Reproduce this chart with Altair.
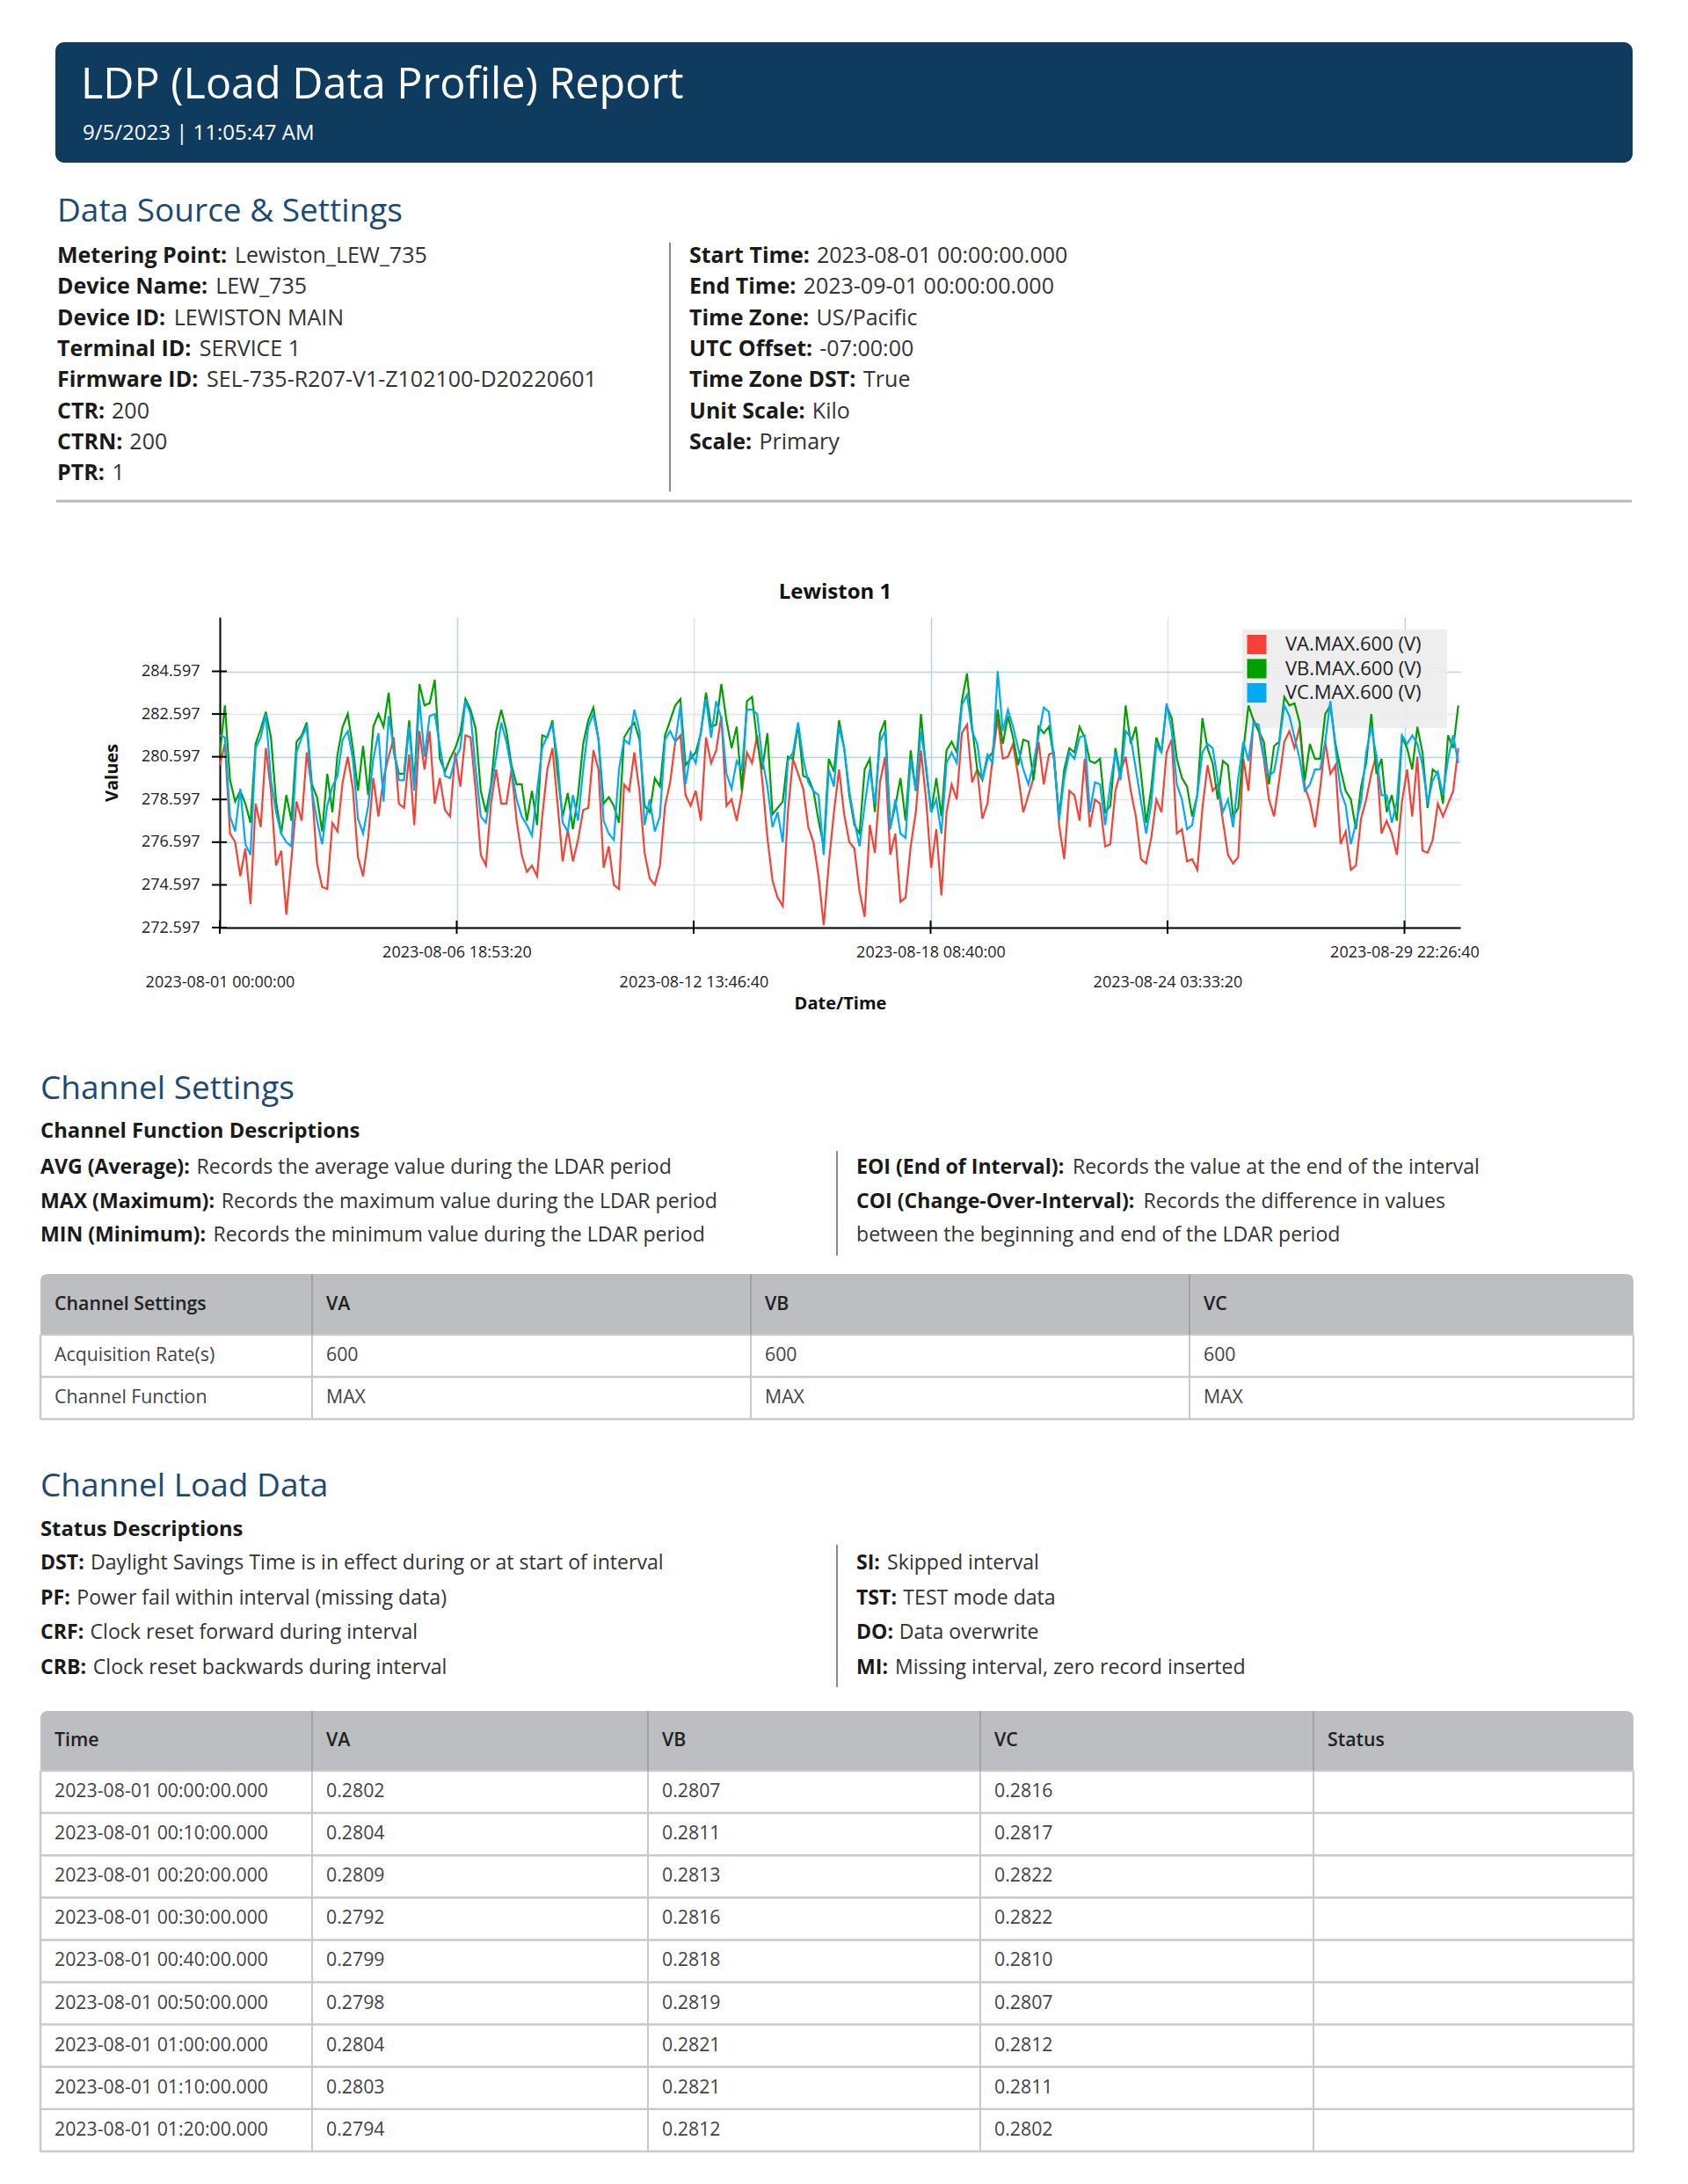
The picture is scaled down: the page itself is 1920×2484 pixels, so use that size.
import altair as alt
import pandas as pd

FONT = "Open Sans"
W = 1904  # page width minus the 8px margins

# ---------------- report texts ----------------
report_title = "LDP (Load Data Profile) Report"
report_stamp = "9/5/2023 | 11:05:47 AM"
heading_source = "Data Source & Settings"
heading_channel = "Channel Settings"
heading_load = "Channel Load Data"
sub_functions = "Channel Function Descriptions"
sub_status = "Status Descriptions"

info_left_labels = ["Metering Point:", "Device Name:", "Device ID:", "Terminal ID:",
                    "Firmware ID:", "CTR:", "CTRN:", "PTR:"]
info_left_values = ["Lewiston_LEW_735", "LEW_735", "LEWISTON MAIN", "SERVICE 1",
                    "SEL-735-R207-V1-Z102100-D20220601", "200", "200", "1"]
info_right_labels = ["Start Time:", "End Time:", "Time Zone:", "UTC Offset:",
                     "Time Zone DST:", "Unit Scale:", "Scale:"]
info_right_values = ["2023-08-01 00:00:00.000", "2023-09-01 00:00:00.000", "US/Pacific",
                     "-07:00:00", "True", "Kilo", "Primary"]

func_left_labels = ["AVG (Average):", "MAX (Maximum):", "MIN (Minimum):"]
func_left_values = ["Records the average value during the LDAR period",
                    "Records the maximum value during the LDAR period",
                    "Records the minimum value during the LDAR period"]
func_right_labels = ["EOI (End of Interval):", "COI (Change-Over-Interval):", ""]
func_right_values = ["Records the value at the end of the interval",
                     "Records the difference in values",
                     "between the beginning and end of the LDAR period"]

status_left_labels = ["DST:", "PF:", "CRF:", "CRB:"]
status_left_values = ["Daylight Savings Time is in effect during or at start of interval",
                      "Power fail within interval (missing data)",
                      "Clock reset forward during interval",
                      "Clock reset backwards during interval"]
status_right_labels = ["SI:", "TST:", "DO:", "MI:"]
status_right_values = ["Skipped interval", "TEST mode data", "Data overwrite",
                       "Missing interval, zero record inserted"]

settings_columns = ["Channel Settings", "VA", "VB", "VC"]
settings_rows = [["Acquisition Rate(s)", "600", "600", "600"],
                 ["Channel Function", "MAX", "MAX", "MAX"]]

load_columns = ["Time", "VA", "VB", "VC", "Status"]
load_time = ["2023-08-01 00:00:00.000", "2023-08-01 00:10:00.000", "2023-08-01 00:20:00.000",
             "2023-08-01 00:30:00.000", "2023-08-01 00:40:00.000", "2023-08-01 00:50:00.000",
             "2023-08-01 01:00:00.000", "2023-08-01 01:10:00.000", "2023-08-01 01:20:00.000"]
load_va = ["0.2802", "0.2804", "0.2809", "0.2792", "0.2799", "0.2798", "0.2804", "0.2803", "0.2794"]
load_vb = ["0.2807", "0.2811", "0.2813", "0.2816", "0.2818", "0.2819", "0.2821", "0.2821", "0.2812"]
load_vc = ["0.2816", "0.2817", "0.2822", "0.2822", "0.2810", "0.2807", "0.2812", "0.2811", "0.2802"]
load_status = ["", "", "", "", "", "", "", "", ""]

# ---------------- chart data ----------------
chart_title = "Lewiston 1"
series_names = ["VA.MAX.600 (V)", "VB.MAX.600 (V)", "VC.MAX.600 (V)"]
series_colors = ["#f44336", "#00a000", "#03a9f4"]
sample_start = "2023-08-01 00:00:00"
sample_step_hours = 3
x_domain_end = "2023-08-31 07:10:00"
x_tick_labels = ["2023-08-01 00:00:00", "2023-08-06 18:53:20", "2023-08-12 13:46:40",
                 "2023-08-18 08:40:00", "2023-08-24 03:33:20", "2023-08-29 22:26:40"]
y_ticks = [272.597, 274.597, 276.597, 278.597, 280.597, 282.597, 284.597]
y_domain = [272.597, 287.13]

va = [280.2, 281.2, 277.0, 276.6, 275.0, 276.3, 273.7, 278.4, 277.3, 281.0,
      279.0, 275.5, 276.2, 273.2, 275.8, 278.5, 277.6, 280.8, 279.1, 275.6,
      274.5, 274.4, 277.5, 277.1, 279.4, 280.6, 279.1, 275.9, 275.0, 276.8,
      279.6, 277.8, 279.6, 280.6, 281.5, 278.4, 278.2, 280.7, 277.4, 281.8,
      280.0, 281.8, 278.4, 279.6, 278.1, 277.8, 280.8, 279.2, 281.6, 281.5,
      279.0, 276.0, 275.5, 278.4, 280.0, 278.4, 278.4, 280.0, 277.6, 276.0,
      275.2, 275.5, 275.0, 277.8, 280.0, 281.0, 278.4, 275.7, 277.2, 275.7,
      276.7, 278.1, 278.2, 280.9, 280.0, 275.4, 276.4, 274.6, 274.4, 279.3,
      279.0, 280.8, 279.0, 276.1, 274.9, 274.6, 275.5, 278.3, 279.4, 281.3,
      281.6, 278.8, 278.3, 279.0, 277.6, 281.5, 280.3, 280.9, 282.5, 278.3,
      278.6, 277.6, 278.9, 280.8, 280.3, 281.6, 279.5, 276.8, 274.8, 274.0,
      273.6, 278.0, 280.5, 279.8, 279.1, 277.3, 276.6, 275.0, 272.7, 275.6,
      278.0, 280.0, 277.9, 276.6, 276.3, 274.3, 273.1, 277.4, 276.1, 279.4,
      280.6, 276.0, 277.0, 273.8, 274.0, 276.4, 278.0, 280.9, 278.6, 275.4,
      277.2, 274.1, 278.0, 279.3, 278.6, 281.7, 282.1, 279.4, 280.0, 277.7,
      278.4, 280.5, 282.4, 280.5, 280.6, 281.2, 279.7, 278.0, 278.8, 279.6,
      281.3, 279.3, 280.7, 280.8, 277.4, 275.8, 279.0, 278.8, 277.6, 280.5,
      277.3, 278.6, 278.4, 276.4, 276.5, 279.0, 279.9, 280.6, 279.0, 277.8,
      275.8, 275.6, 276.8, 278.6, 278.0, 280.8, 281.4, 277.0, 277.2, 275.7,
      275.8, 275.3, 278.2, 280.2, 279.0, 279.3, 277.6, 276.0, 275.6, 275.9,
      280.5, 279.0, 282.3, 281.8, 280.5, 278.6, 277.8, 279.5, 281.3, 281.8,
      281.0, 282.0, 279.2, 278.5, 277.3, 279.1, 281.3, 279.8, 280.2, 276.5,
      277.1, 275.3, 275.5, 277.7, 278.6, 279.8, 280.7, 277.0, 277.6, 277.0,
      276.0, 278.5, 280.0, 277.8, 280.6, 276.2, 276.1, 276.7, 278.4, 277.8,
      278.4, 279.0, 281.0]

vb = [280.7, 283.0, 279.5, 278.5, 279.0, 278.4, 277.5, 281.2, 281.9, 282.7,
      281.5, 278.5, 277.0, 278.8, 277.6, 281.3, 281.6, 282.2, 279.3, 278.7,
      277.1, 279.8, 278.0, 280.7, 282.0, 282.6, 281.0, 279.0, 281.1, 278.8,
      282.0, 282.6, 282.0, 283.6, 280.8, 279.8, 279.8, 282.3, 279.3, 284.0,
      283.0, 283.1, 284.2, 280.5, 279.9, 280.5, 281.0, 281.7, 283.3, 282.8,
      281.9, 279.0, 278.0, 279.3, 281.8, 282.8, 281.8, 280.2, 279.3, 279.3,
      277.6, 279.0, 277.4, 281.6, 281.5, 282.3, 279.8, 277.8, 278.9, 277.2,
      278.8, 281.2, 282.3, 282.9, 281.4, 278.4, 278.7, 278.3, 277.5, 281.5,
      281.9, 282.2, 281.4, 278.3, 278.0, 279.6, 279.2, 281.6, 282.3, 283.0,
      283.3, 280.2, 280.5, 280.8, 281.7, 283.6, 282.0, 282.1, 284.0, 282.3,
      281.0, 282.0, 279.0, 283.2, 283.4, 281.3, 280.0, 281.7, 277.9, 278.2,
      278.5, 280.6, 280.5, 282.1, 279.7, 279.6, 279.0, 277.6, 276.4, 280.5,
      279.9, 282.3, 281.0, 278.8, 277.4, 277.0, 280.0, 280.5, 278.0, 281.7,
      282.3, 277.3, 278.3, 279.6, 277.6, 280.9, 279.0, 282.6, 280.0, 278.0,
      279.6, 277.8, 280.9, 281.3, 280.8, 283.2, 284.5, 282.0, 280.0, 279.5,
      280.5, 280.8, 282.8, 281.2, 282.5, 281.5, 280.2, 281.4, 281.3, 279.5,
      282.0, 281.7, 282.0, 280.5, 277.8, 280.0, 281.0, 280.8, 282.0, 281.5,
      280.4, 280.3, 280.5, 278.0, 278.3, 281.0, 279.7, 283.0, 281.2, 282.0,
      279.8, 277.5, 279.1, 281.5, 280.8, 283.0, 282.4, 280.5, 279.6, 279.2,
      277.8, 278.8, 282.4, 281.0, 280.3, 278.6, 280.4, 280.2, 277.8, 278.2,
      280.9, 283.0, 282.3, 281.8, 281.3, 279.3, 281.1, 281.3, 283.4, 283.0,
      283.1, 282.2, 279.5, 281.2, 280.5, 280.5, 282.6, 283.0, 281.2, 280.0,
      279.0, 278.6, 277.2, 279.2, 280.3, 282.6, 279.8, 280.5, 278.0, 278.8,
      277.6, 281.5, 281.0, 280.0, 282.0, 280.8, 278.2, 280.0, 279.8, 278.4,
      281.6, 281.0, 283.0]

vc = [281.6, 281.5, 277.8, 277.1, 279.1, 276.5, 276.0, 281.0, 281.5, 282.6,
      279.5, 278.0, 277.0, 276.6, 276.4, 280.8, 281.5, 282.0, 279.0, 277.6,
      276.5, 278.3, 279.2, 279.7, 281.4, 281.8, 280.5, 277.7, 277.0, 278.3,
      280.5, 281.7, 278.5, 282.5, 281.0, 279.5, 279.5, 282.0, 279.0, 283.3,
      280.6, 282.5, 282.6, 281.1, 279.7, 279.6, 280.5, 281.0, 283.2, 282.6,
      280.0, 277.8, 277.5, 279.1, 280.6, 282.2, 281.3, 280.0, 278.6, 277.8,
      277.4, 276.9, 279.0, 281.0, 281.6, 282.1, 280.5, 277.5, 277.1, 278.8,
      277.6, 280.0, 282.0, 282.6, 281.4, 277.6, 277.0, 276.7, 280.0, 281.4,
      281.2, 282.8, 281.8, 277.4, 278.6, 277.1, 277.8, 281.4, 281.8, 281.3,
      283.0, 279.3, 280.8, 280.3, 281.8, 283.3, 281.5, 283.2, 282.4, 279.8,
      279.1, 280.4, 280.0, 282.8, 282.8, 282.6, 280.5, 279.2, 277.3, 278.0,
      276.6, 280.4, 280.8, 282.2, 280.5, 279.4, 279.0, 278.8, 276.0, 280.0,
      279.2, 282.0, 281.0, 279.0, 277.6, 276.4, 278.3, 280.0, 278.4, 281.3,
      281.8, 277.2, 278.6, 277.0, 276.8, 280.5, 279.0, 281.8, 280.2, 278.0,
      278.6, 277.0, 280.3, 280.8, 280.3, 283.0, 283.5, 281.8, 281.2, 279.5,
      280.7, 280.3, 284.6, 281.8, 282.8, 282.0, 281.0, 280.0, 279.3, 280.3,
      281.6, 282.9, 282.7, 280.5, 277.6, 279.6, 280.8, 280.5, 281.5, 281.6,
      278.0, 279.4, 279.3, 277.4, 279.3, 280.8, 279.5, 281.8, 281.5, 280.0,
      278.5, 277.0, 278.4, 281.2, 280.8, 283.1, 281.8, 279.3, 278.6, 277.2,
      277.4, 278.8, 280.8, 281.2, 281.0, 279.5, 278.0, 278.6, 277.3, 279.6,
      281.3, 280.4, 282.2, 282.1, 280.6, 279.7, 279.9, 281.2, 283.0, 282.5,
      281.5, 280.5, 279.0, 279.3, 280.0, 280.0, 281.3, 283.2, 281.0, 279.0,
      278.3, 276.5, 277.5, 278.5, 280.8, 282.0, 280.6, 278.8, 278.8, 277.5,
      278.5, 281.6, 281.2, 281.6, 281.2, 280.2, 278.4, 279.5, 279.9, 278.8,
      280.5, 281.6, 280.3]

# ---------------- helpers ----------------
BOLD_EM = {
    " ": 0.26, ":": 0.286, "(": 0.332, ")": 0.332, "-": 0.322,
    "A": 0.690, "B": 0.686, "C": 0.639, "D": 0.740, "E": 0.561, "F": 0.545, "G": 0.725,
    "H": 0.765, "I": 0.372, "J": 0.347, "K": 0.667, "L": 0.563, "M": 0.944, "N": 0.812,
    "O": 0.783, "P": 0.655, "Q": 0.783, "R": 0.676, "S": 0.561, "T": 0.581, "U": 0.760,
    "V": 0.659, "W": 0.990, "X": 0.662, "Y": 0.619, "Z": 0.574,
    "a": 0.604, "b": 0.638, "c": 0.524, "d": 0.638, "e": 0.596, "f": 0.393, "g": 0.567,
    "h": 0.664, "i": 0.306, "j": 0.306, "k": 0.622, "l": 0.306, "m": 0.994, "n": 0.664,
    "o": 0.624, "p": 0.638, "q": 0.638, "r": 0.459, "s": 0.515, "t": 0.426, "u": 0.664,
    "v": 0.592, "w": 0.881, "x": 0.598, "y": 0.592, "z": 0.504,
}


def bold_w(s, size):
    return sum(BOLD_EM.get(c, 0.6) for c in s) * size


def one():
    return pd.DataFrame({"k": [0]})


def T(rows, size, color, weight="normal"):
    df = pd.DataFrame(rows, columns=["x", "y", "t"])
    return alt.Chart(df).mark_text(align="left", baseline="middle", font=FONT,
                                   fontSize=size, fontWeight=weight, color=color).encode(
        x=alt.X("x:Q", scale=None, axis=None),
        y=alt.Y("y:Q", scale=None, axis=None),
        text=alt.Text("t:N"))


def R(rows, color, width):
    df = pd.DataFrame(rows, columns=["x", "x2", "y", "y2"])
    return alt.Chart(df).mark_rule(color=color, strokeWidth=width).encode(
        x=alt.X("x:Q", scale=None, axis=None), x2="x2:Q",
        y=alt.Y("y:Q", scale=None, axis=None), y2="y2:Q")


def B(rows, color, **kw):
    df = pd.DataFrame(rows, columns=["x", "x2", "y", "y2"])
    return alt.Chart(df).mark_rect(color=color, **kw).encode(
        x=alt.X("x:Q", scale=None, axis=None), x2="x2:Q",
        y=alt.Y("y:Q", scale=None, axis=None), y2="y2:Q")


def labeled(lx, ys, labels, values, size, lab_color="#1a1a1a", val_color="#333333"):
    lab_rows, val_rows = [], []
    for y, lab, val in zip(ys, labels, values):
        if lab:
            lab_rows.append([lx, y, lab])
            vx = lx + bold_w(lab, size) + 0.3 * size
        else:
            vx = lx
        val_rows.append([vx, y, val])
    layers = []
    if lab_rows:
        layers.append(T(lab_rows, size, lab_color, "bold"))
    layers.append(T(val_rows, size, val_color))
    return layers


HEAD_COLOR = "#1d4a72"

# ---------------- panel A : header + data source ----------------
HA = 694
OYA = 8  # page y of panel top
def ya(py): return py - OYA
def xp(px): return px - 8

row_h = 35.3
info_ys_left = [ya(291 + row_h * k) for k in range(len(info_left_labels))]
info_ys_right = [ya(291 + row_h * k) for k in range(len(info_right_labels))]

panelA_layers = [
    alt.Chart(one()).mark_rect(color="white").encode(
        x=alt.value(0), x2=alt.value(W), y=alt.value(0), y2=alt.value(HA)),
    B([[xp(63), xp(1857), ya(48), ya(185)]], "#0e3b5e", cornerRadius=10),
    T([[xp(92), ya(97), report_title]], 48.5, "white"),
    T([[xp(94), ya(152), report_stamp]], 24, "white"),
    T([[xp(65), ya(241), heading_source]], 37, HEAD_COLOR),
]
panelA_layers += labeled(xp(65), info_ys_left, info_left_labels, info_left_values, 25)
panelA_layers += labeled(xp(784), info_ys_right, info_right_labels, info_right_values, 25)
panelA_layers += [
    R([[xp(762), xp(762), ya(276), ya(559)]], "#8a8a8a", 2),
    R([[xp(64), xp(1856), ya(570), ya(570)]], "#b8b8b8", 3),
]
panelA = alt.layer(*panelA_layers).properties(width=W, height=HA)

# ---------------- chart panel ----------------
PH = 353
LEFT, RIGHT = 242, 1653  # plot area inside the full-width panel
n = min(len(va), len(vb), len(vc))
start_ms = int(pd.Timestamp(sample_start, tz="UTC").value // 10**6)
end_ms = int(pd.Timestamp(x_domain_end, tz="UTC").value // 10**6)
step_ms = sample_step_hours * 3600 * 1000
times = [start_ms + i * step_ms for i in range(n)]
x_tick_ms = [int(pd.Timestamp(s, tz="UTC").value // 10**6) for s in x_tick_labels]

df_lines = pd.DataFrame({
    "time": times * 3,
    "value": va[:n] + vb[:n] + vc[:n],
    "series": [series_names[0]] * n + [series_names[1]] * n + [series_names[2]] * n,
})

tick_period = x_tick_ms[1] - x_tick_ms[0]
even_test = f"round((datum.value - {x_tick_ms[0]}) / {tick_period}) % 2 == 0"
fmt = "'%Y-%m-%d %H:%M:%S'"
label_expr = (f"({even_test}) ? ['', utcFormat(datum.value, {fmt})] "
              f": utcFormat(datum.value, {fmt})")

x_scale = alt.Scale(type="utc", domain=[start_ms, end_ms], nice=False, range=[LEFT, RIGHT])
y_scale = alt.Scale(domain=y_domain, nice=False, zero=False)

x_axis = alt.Axis(
    values=x_tick_ms, labelExpr=label_expr, labelFont=FONT, labelFontSize=18,
    labelColor="#222222", labelPadding=19, labelLineHeight=34.5, labelOverlap=False,
    labelFlush=False, ticks=False, tickSize=0, domainColor="#000000", domainWidth=2,
    grid=True, gridWidth=1.5,
    gridColor={"condition": {"test": even_test, "value": "#e3e3e3"}, "value": "#add8e6"},
    title="Date/Time", titleFont=FONT, titleFontSize=20, titleFontWeight="bold",
    titleColor="#111111", titlePadding=5)

y_axis = alt.Axis(
    values=y_ticks, format=".3f", labelFont=FONT, labelFontSize=18, labelColor="#222222",
    labelPadding=23, labelOverlap=False, labelFlush=False, ticks=False, tickSize=0,
    offset=-LEFT,
    domainColor="#000000", domainWidth=2, grid=True, gridWidth=1.5,
    gridColor={"condition": {"test": f"round((datum.value - {y_ticks[0]}) / 2) % 2 == 1",
                             "value": "#e3e3e3"}, "value": "#add8e6"},
    title="Values", titleFont=FONT, titleFontSize=20, titleFontWeight="bold",
    titleColor="#111111", titlePadding=23)

X = alt.X("time:T", scale=x_scale, axis=x_axis, title="Date/Time")
Y = alt.Y("value:Q", scale=y_scale, axis=y_axis, title="Values")

# legend box (drawn under the lines, like the reference)
LG_X0, LG_X1, LG_Y0, LG_Y1 = 1405, 1638, 14, 126
LG_SYM_X, LG_TXT_X, LG_ROW0, LG_ROW_H = 1421.5, 1454, 31, 27.5

legend_bg = alt.Chart(one()).mark_rect(color="#ececec", opacity=0.9).encode(
    x=alt.value(LG_X0), x2=alt.value(LG_X1), y=alt.value(LG_Y0), y2=alt.value(LG_Y1))

lines = alt.Chart(df_lines).mark_line(strokeWidth=2.2).encode(
    x=X, y=Y,
    color=alt.Color("series:N", scale=alt.Scale(domain=series_names, range=series_colors),
                    legend=None))

x_ticks_layer = alt.Chart(pd.DataFrame({"time": x_tick_ms})).mark_rule(
    color="#000000", strokeWidth=2).encode(x=X, y=alt.value(PH - 8), y2=alt.value(PH + 7))
y_ticks_layer = alt.Chart(pd.DataFrame({"value": y_ticks})).mark_rule(
    color="#000000", strokeWidth=2).encode(y=Y, x=alt.value(LEFT - 9), x2=alt.value(LEFT + 8))

legend_layers = []
for k, (name, col) in enumerate(zip(series_names, series_colors)):
    d = pd.DataFrame({"series": [name]})
    yk = LG_ROW0 + LG_ROW_H * k
    legend_layers.append(
        alt.Chart(d).mark_square(size=484, color=col, opacity=1, filled=True).encode(
            x=alt.value(LG_SYM_X), y=alt.value(yk)))
    legend_layers.append(
        alt.Chart(d).mark_text(align="left", baseline="middle", font=FONT, fontSize=22,
                               color="#222222").encode(
            x=alt.value(LG_TXT_X), y=alt.value(yk), text="series:N"))

line_chart = alt.layer(legend_bg, lines, x_ticks_layer, y_ticks_layer,
                       *legend_layers).properties(
    width=W, height=PH,
    title=alt.TitleParams(chart_title, font=FONT, fontSize=24, fontWeight="bold",
                          color="#111111", offset=16, anchor="middle", dx=-10))

# ---------------- panel C : channel settings + load data ----------------
HC = 1421
OYC = 1053  # content shifted 2px down relative to the panel top at 1055
def yc(py): return py - OYC

DESC = 23.1
TAB = 21.3
panelC_layers = [
    T([[xp(46), yc(1237), heading_channel], [xp(46), yc(1689), heading_load]], 37, HEAD_COLOR),
    T([[xp(46), yc(1285), sub_functions], [xp(46), yc(1738), sub_status]], 23.8, "#1a1a1a", "bold"),
]
func_ys = [yc(1326), yc(1364.5), yc(1403)]
status_ys = [yc(1776), yc(1815.5), yc(1855), yc(1894.5)]
panelC_layers += labeled(xp(46), func_ys, func_left_labels, func_left_values, DESC)
panelC_layers += labeled(xp(974), func_ys, func_right_labels, func_right_values, DESC)
panelC_layers += labeled(xp(46), status_ys, status_left_labels, status_left_values, DESC)
panelC_layers += labeled(xp(974), status_ys, status_right_labels, status_right_values, DESC)
panelC_layers += [
    R([[xp(952), xp(952), yc(1307), yc(1426)], [xp(952), xp(952), yc(1755), yc(1917)]],
      "#8a8a8a", 2),
]


def table_layers(top, header_h, row_h, col_edges, columns, rows):
    left, right = col_edges[0], col_edges[-1]
    hb = top + header_h
    bottom = hb + row_h * len(rows)
    layers = [
        B([[left, right, top, hb]], "#bcbec1", cornerRadiusTopLeft=8, cornerRadiusTopRight=8),
    ]
    hlines = [[left, right, hb + row_h * (k + 1), hb + row_h * (k + 1)] for k in range(len(rows))]
    hlines.append([left, right, hb, hb])
    layers.append(R(hlines, "#c9c9c9", 2.5))
    layers.append(R([[left, left, hb, bottom], [right, right, hb, bottom]], "#c9c9c9", 2.5))
    inner = col_edges[1:-1]
    layers.append(R([[c, c, top, hb] for c in inner], "#9fa1a4", 2))
    layers.append(R([[c, c, hb, bottom] for c in inner], "#c9c9c9", 2))
    head_rows = [[col_edges[j] + 16, top + header_h / 2, columns[j]] for j in range(len(columns))]
    layers.append(T(head_rows, TAB, "#222222", 600))
    body_rows = []
    for k, row in enumerate(rows):
        for j, val in enumerate(row):
            if val != "":
                body_rows.append([col_edges[j] + 16, hb + row_h * (k + 0.5), val])
    layers.append(T(body_rows, TAB, "#444444"))
    return layers


t1_edges = [xp(v) for v in [46, 355, 854, 1353, 1858]]
panelC_layers += table_layers(yc(1447), 69, 48, t1_edges, settings_columns, settings_rows)

t2_edges = [xp(v) for v in [46, 355, 737, 1115, 1494, 1858]]
load_rows = [list(r) for r in zip(load_time, load_va, load_vb, load_vc, load_status)]
panelC_layers += table_layers(yc(1944), 68, 48.1, t2_edges, load_columns, load_rows)

panelC = alt.layer(*panelC_layers).properties(width=W, height=HC)

# ---------------- page ----------------
chart = alt.vconcat(panelA, line_chart, panelC, spacing=0, bounds="flush").properties(
    padding={"left": 0, "top": 0, "right": 0, "bottom": 0}
).configure(font=FONT, background="white").configure_view(stroke=None, strokeWidth=0)

chart.save("out.html", embed_options={"renderer": "svg", "actions": False})
